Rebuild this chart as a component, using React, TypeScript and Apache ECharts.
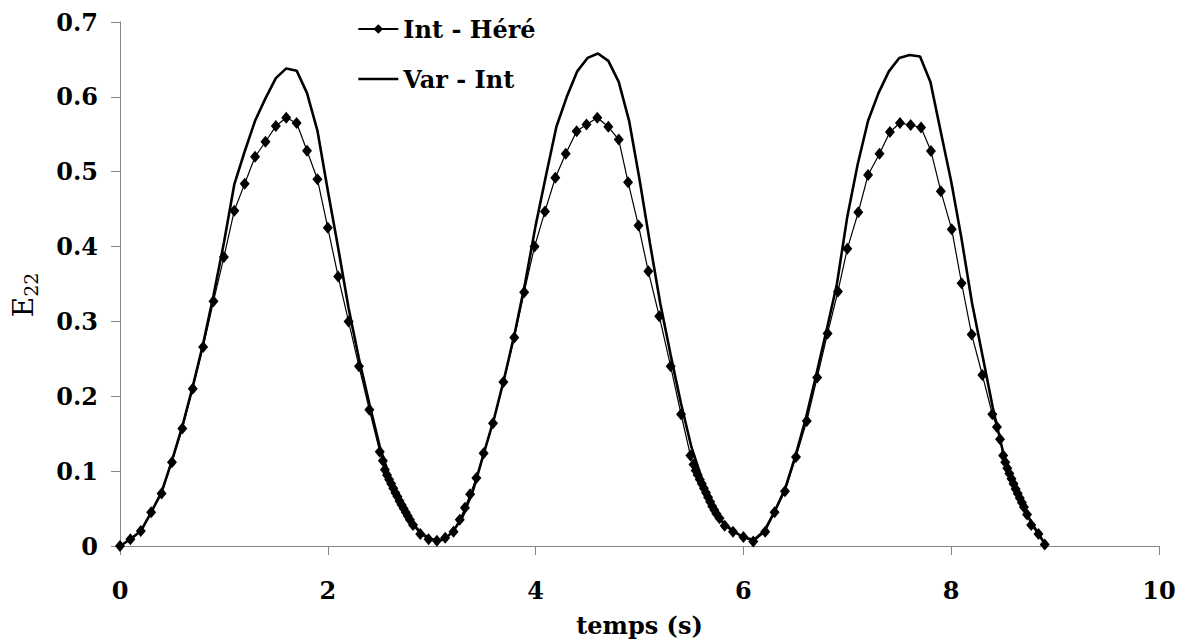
import React, { useEffect, useRef } from "react";
import * as echarts from "echarts";

// Int - Héré (with diamond markers)
const HERE_T = [
  0, 0.1, 0.2, 0.3, 0.4, 0.5, 0.6, 0.7, 0.8, 0.9, 1.0, 1.1, 1.2, 1.3, 1.4, 1.5, 1.6, 1.7, 1.8, 1.9, 2.0, 2.1, 2.2, 2.3, 2.4, 2.5, 2.53,
  2.55, 2.57, 2.59, 2.61, 2.63, 2.65, 2.67, 2.69, 2.71, 2.73, 2.75, 2.77, 2.79, 2.82,
  2.89, 2.97, 3.05, 3.13, 3.21, 3.27, 3.32, 3.37, 3.43, 3.5, 3.59, 3.69, 3.795, 3.89, 3.99, 4.09, 4.19, 4.29, 4.395, 4.49, 4.594, 4.7, 4.8, 4.89, 4.99, 5.085, 5.19, 5.3, 5.4, 5.49, 5.52,
  5.54, 5.56, 5.58, 5.6, 5.62, 5.64, 5.66, 5.68, 5.7, 5.72, 5.74, 5.77,
  5.82, 5.9, 6.0, 6.095, 6.21, 6.3, 6.4, 6.506, 6.61, 6.71, 6.81, 6.91, 7.0, 7.106, 7.2, 7.31, 7.41, 7.507, 7.61, 7.71, 7.805, 7.9, 8.005, 8.1, 8.197, 8.3, 8.396, 8.44, 8.47,
  8.5, 8.52, 8.54, 8.56, 8.58, 8.6, 8.62, 8.64, 8.66, 8.68, 8.7, 8.73,
  8.77, 8.84, 8.9,
];
const HERE_E = [
  0, 0.009, 0.02, 0.045, 0.07, 0.112, 0.157, 0.21, 0.266, 0.327, 0.386, 0.448, 0.484, 0.52, 0.54, 0.561, 0.572, 0.565, 0.528, 0.49, 0.425, 0.36, 0.3, 0.24, 0.182, 0.126, 0.114,
  0.102, 0.095, 0.089, 0.083, 0.077, 0.071, 0.066, 0.06, 0.055, 0.05, 0.045, 0.04, 0.035, 0.028,
  0.016, 0.009, 0.007, 0.011, 0.019, 0.035, 0.051, 0.069, 0.091, 0.124, 0.164, 0.219, 0.2785, 0.339, 0.4, 0.447, 0.492, 0.524, 0.554, 0.563, 0.572, 0.56, 0.543, 0.486, 0.428, 0.367, 0.307, 0.24, 0.176, 0.121, 0.109,
  0.101, 0.095, 0.089, 0.083, 0.077, 0.071, 0.065, 0.059, 0.053, 0.048, 0.043, 0.037,
  0.027, 0.019, 0.012, 0.006, 0.019, 0.045, 0.073, 0.119, 0.167, 0.225, 0.284, 0.34, 0.397, 0.446, 0.4956, 0.524, 0.553, 0.565, 0.5624, 0.559, 0.5276, 0.474, 0.423, 0.351, 0.2824, 0.2284, 0.176, 0.159, 0.1425,
  0.121, 0.112, 0.104, 0.097, 0.09, 0.083, 0.076, 0.07, 0.064, 0.058, 0.052, 0.042,
  0.028, 0.016, 0.002,
];

// Var - Int (thick line)
const VAR_T = [
  0, 0.1, 0.2, 0.3, 0.4, 0.5, 0.6, 0.7, 0.8, 0.9, 1.0, 1.1, 1.2, 1.3, 1.4, 1.5, 1.6, 1.7, 1.8, 1.9,
  2.0, 2.1, 2.2, 2.3, 2.4, 2.5, 2.6, 2.7, 2.8, 2.9, 3.0, 3.1, 3.2, 3.3, 3.4, 3.5, 3.6, 3.7, 3.8, 3.9,
  4.0, 4.1, 4.2, 4.3, 4.4, 4.5, 4.6, 4.7, 4.8, 4.9, 5.0, 5.1, 5.2, 5.3, 5.4, 5.5, 5.6, 5.7, 5.8, 5.9,
  6.0, 6.1, 6.2, 6.3, 6.4, 6.5, 6.6, 6.7, 6.8, 6.9, 7.0, 7.1, 7.2, 7.3, 7.4, 7.5, 7.6, 7.7, 7.8, 7.9,
  8.0, 8.1, 8.2, 8.3, 8.4, 8.5, 8.6, 8.7, 8.8, 8.9,
];
const VAR_E = [
  0, 0.009, 0.02, 0.045, 0.072, 0.114, 0.16, 0.213, 0.27, 0.335, 0.405, 0.483, 0.527, 0.568, 0.598, 0.625, 0.638, 0.635, 0.605, 0.555,
  0.475, 0.398, 0.318, 0.25, 0.19, 0.133, 0.09, 0.058, 0.033, 0.017, 0.009, 0.008, 0.018, 0.04, 0.075, 0.123, 0.17, 0.225, 0.285, 0.352,
  0.428, 0.495, 0.56, 0.6, 0.634, 0.652, 0.658, 0.648, 0.62, 0.568, 0.49, 0.405, 0.324, 0.255, 0.19, 0.132, 0.09, 0.057, 0.032, 0.02,
  0.012, 0.008, 0.02, 0.046, 0.076, 0.12, 0.17, 0.228, 0.288, 0.35, 0.44, 0.51, 0.568, 0.605, 0.634, 0.652, 0.656, 0.654, 0.62, 0.553,
  0.487, 0.41, 0.325, 0.255, 0.185, 0.125, 0.085, 0.05, 0.025, 0.003,
];

const X_TICKS = { min: 0, max: 10, interval: 2 };
const Y_TICKS = { min: 0, max: 0.7, interval: 0.1 };

const FONT = '"DejaVu Serif", serif';
const AXIS_GREY = "#868686";

export default function App() {
  const ref = useRef<HTMLDivElement>(null);

  useEffect(() => {
    if (!ref.current) return;
    const chart = echarts.init(ref.current, undefined, { renderer: "svg" });
    const hereData = HERE_T.map((t, i) => [t, HERE_E[i]]);
    const varData = VAR_T.map((t, i) => [t, VAR_E[i]]);

    chart.setOption({
      animation: false,
      backgroundColor: "#ffffff",
      grid: { left: 120, right: 25, top: 22, bottom: 96, containLabel: false },
      legend: {
        orient: "vertical",
        left: 352,
        top: 12,
        itemWidth: 40,
        itemHeight: 12,
        itemGap: 26,
        data: [
          { name: "Int - Héré" },
          { name: "Var - Int", itemStyle: { opacity: 0 }, lineStyle: { width: 2.6, color: "#000" } },
        ],
        textStyle: { fontFamily: FONT, fontWeight: "bold", fontSize: 24, color: "#000" },
      },
      xAxis: {
        type: "value",
        min: X_TICKS.min,
        max: X_TICKS.max,
        interval: X_TICKS.interval,
        name: "temps (s)",
        nameLocation: "middle",
        nameGap: 67,
        nameTextStyle: { fontFamily: FONT, fontWeight: "bold", fontSize: 24, color: "#000" },
        axisLine: { show: true, onZero: false, lineStyle: { color: AXIS_GREY, width: 1 } },
        axisTick: { show: true, length: 9, lineStyle: { color: AXIS_GREY, width: 1 } },
        axisLabel: { margin: 32, fontFamily: FONT, fontWeight: "bold", fontSize: 24, color: "#000" },
        splitLine: { show: false },
      },
      yAxis: {
        type: "value",
        min: Y_TICKS.min,
        max: Y_TICKS.max,
        interval: Y_TICKS.interval,
        name: "{a|E}{b|22}",
        nameLocation: "middle",
        nameRotate: 90,
        nameGap: 80,
        nameTextStyle: {
          padding: [0, 22, 0, 0],
          rich: {
            a: { fontFamily: FONT, fontSize: 28, color: "#000", lineHeight: 34, verticalAlign: "middle" },
            b: { fontFamily: FONT, fontSize: 19, color: "#000", lineHeight: 20, verticalAlign: "bottom" },
          },
        },
        axisLine: { show: true, lineStyle: { color: AXIS_GREY, width: 1 } },
        axisTick: { show: true, length: 9, lineStyle: { color: AXIS_GREY, width: 1 } },
        axisLabel: { margin: 22, fontFamily: FONT, fontWeight: "bold", fontSize: 24, color: "#000" },
        splitLine: { show: false },
      },
      series: [
        {
          name: "Int - Héré",
          type: "line",
          data: hereData,
          symbol: "diamond",
          symbolSize: [10, 12],
          showAllSymbol: true,
          itemStyle: { color: "#000" },
          lineStyle: { color: "#000", width: 1.2 },
          z: 3,
        },
        {
          name: "Var - Int",
          type: "line",
          data: varData,
          symbol: "none",
          itemStyle: { color: "#000" },
          lineStyle: { color: "#000", width: 2.6 },
          z: 2,
        },
      ],
    });

    return () => chart.dispose();
  }, []);

  return (
    <div
      ref={ref}
      style={{ position: "absolute", left: 0, top: 0, width: 1184, height: 642, background: "#fff" }}
    />
  );
}
